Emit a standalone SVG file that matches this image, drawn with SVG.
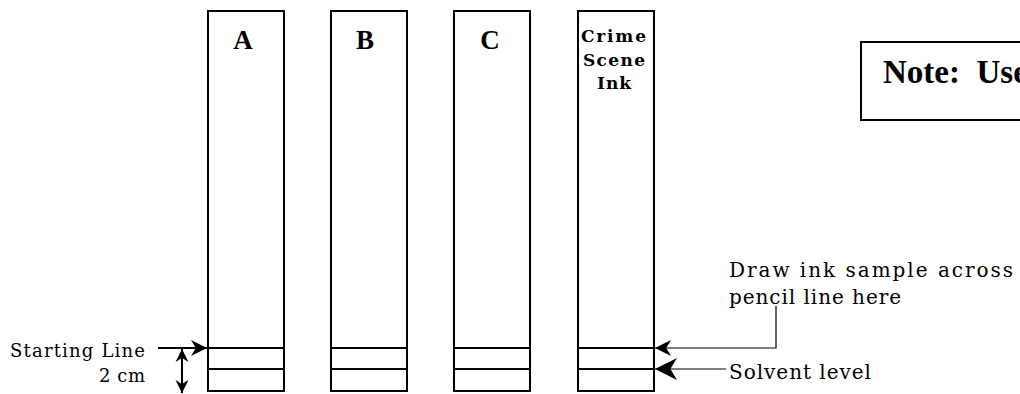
<svg xmlns="http://www.w3.org/2000/svg" width="1020" height="394" viewBox="0 0 1020 394">
<style>
.strip{fill:#fff;stroke:#000;stroke-width:2}
.band{stroke:#000;stroke-width:2}
.lbl{font-family:"Liberation Serif",serif;font-weight:bold;font-size:27px;fill:#000;text-anchor:middle}
.crime{font-family:"DejaVu Serif","Liberation Serif",serif;font-weight:bold;font-size:17px;fill:#000}
.txt{font-family:"DejaVu Serif","Liberation Serif",serif;font-size:18px;fill:#000}
.txt2{font-family:"DejaVu Serif","Liberation Serif",serif;font-size:20px;fill:#000}
.lead{fill:none;stroke:#000;stroke-width:1.2}
.thick{fill:none;stroke:#000;stroke-width:2}
.note{fill:#fff;stroke:#000;stroke-width:2}
.notetxt{font-family:"Liberation Serif",serif;font-weight:bold;font-size:33px;fill:#000}
</style>
<defs>
<marker id="ahS" viewBox="0 0 20 20" refX="20" refY="10" markerUnits="userSpaceOnUse" markerWidth="16" markerHeight="20" orient="auto"><path d="M0,0 L20,10 L0,20 L6,10 Z" fill="#000"/></marker>
<marker id="ahP" viewBox="0 0 20 20" refX="20" refY="10" markerUnits="userSpaceOnUse" markerWidth="22" markerHeight="16" orient="auto"><path d="M0,0 L20,10 L0,20 L6,10 Z" fill="#000"/></marker>
<marker id="ahV" viewBox="0 0 20 20" refX="20" refY="10" markerUnits="userSpaceOnUse" markerWidth="24" markerHeight="22" orient="auto"><path d="M0,0 L20,10 L0,20 L6,10 Z" fill="#000"/></marker>
<marker id="ahD" viewBox="0 0 20 20" refX="20" refY="10" markerUnits="userSpaceOnUse" markerWidth="13" markerHeight="14" orient="auto"><path d="M0,0 L20,10 L0,20 L6,10 Z" fill="#000"/></marker>
</defs>
<g id="stripA">
<rect class="strip" x="208" y="11" width="76" height="380"/>
<line class="band" x1="208" y1="348" x2="284" y2="348"/>
<line class="band" x1="208" y1="369" x2="284" y2="369"/>
<text class="lbl" x="243" y="49">A</text>
</g>
<g id="stripB">
<rect class="strip" x="331" y="11" width="76" height="380"/>
<line class="band" x1="331" y1="348" x2="407" y2="348"/>
<line class="band" x1="331" y1="369" x2="407" y2="369"/>
<text class="lbl" x="365" y="49">B</text>
</g>
<g id="stripC">
<rect class="strip" x="454" y="11" width="76" height="380"/>
<line class="band" x1="454" y1="348" x2="530" y2="348"/>
<line class="band" x1="454" y1="369" x2="530" y2="369"/>
<text class="lbl" x="490" y="49">C</text>
</g>
<g id="stripCrime">
<rect class="strip" x="578" y="11" width="76" height="380"/>
<line class="band" x1="578" y1="348" x2="654" y2="348"/>
<line class="band" x1="578" y1="369" x2="654" y2="369"/>
<text class="crime" x="581" y="42" textLength="65" lengthAdjust="spacing">Crime</text>
<text class="crime" x="583" y="66" textLength="62" lengthAdjust="spacing">Scene</text>
<text class="crime" x="597" y="89" textLength="34" lengthAdjust="spacing">Ink</text>
</g>
<g id="note">
<rect class="note" x="861" y="42" width="180" height="78"/>
<text class="notetxt" x="883" y="83" xml:space="preserve">Note:  Use</text>
</g>
<g id="startingLabel">
<text class="txt" x="10" y="357" textLength="135" lengthAdjust="spacing">Starting Line</text>
<text class="txt" x="99" y="382" textLength="46" lengthAdjust="spacing">2 cm</text>
</g>
<g id="drawLabel">
<text class="txt2" x="729" y="277" textLength="284" lengthAdjust="spacing">Draw ink sample across</text>
<text class="txt2" x="729" y="304" textLength="172" lengthAdjust="spacing">pencil line here</text>
</g>
<g id="solventLabel">
<text class="txt2" x="729" y="379" textLength="142" lengthAdjust="spacing">Solvent level</text>
</g>
<g id="connectors">
<line class="thick" x1="158" y1="348" x2="207" y2="348" marker-end="url(#ahS)"/>
<line class="thick" x1="182" y1="370" x2="182" y2="349" marker-end="url(#ahD)"/>
<line class="thick" x1="182" y1="370" x2="182" y2="393" marker-end="url(#ahD)"/>
<polyline class="lead" points="776,306 776,348 655,348" marker-end="url(#ahP)"/>
<line class="lead" x1="726" y1="369" x2="655" y2="369" marker-end="url(#ahV)"/>
</g>
</svg>
